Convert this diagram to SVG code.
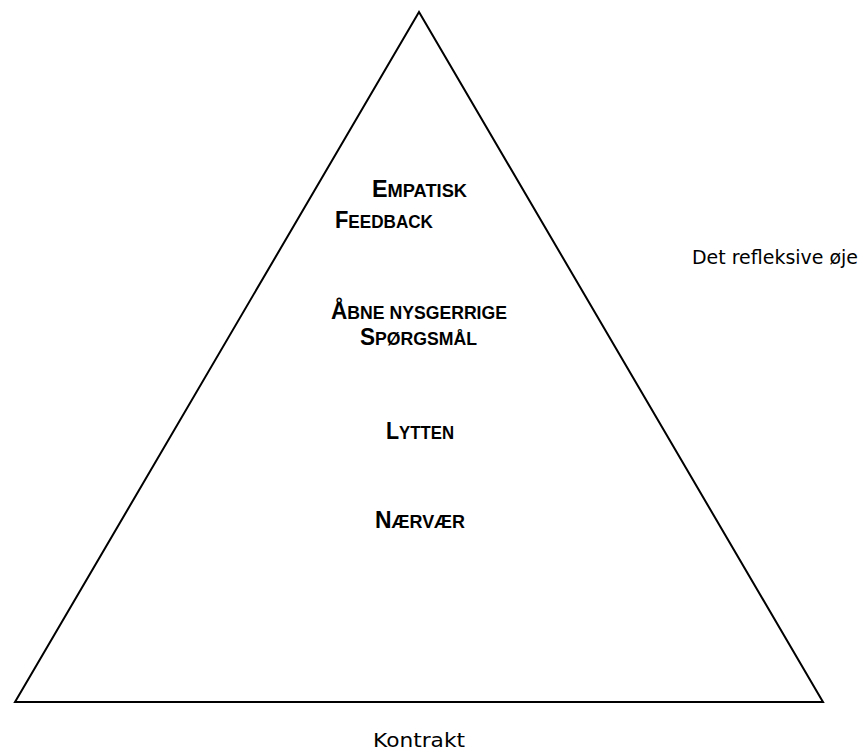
<svg xmlns="http://www.w3.org/2000/svg" width="859" height="753" viewBox="0 0 859 753">
<style>
.lvl{font-family:"Liberation Sans",Arial,sans-serif;font-weight:bold;fill:#000}
.big{font-size:23px}
.sm{font-size:18px}
.plain{font-family:"DejaVu Sans","Liberation Sans",sans-serif;font-size:19px;fill:#000}
</style>
<rect width="859" height="753" fill="#fff"/>
<g id="pyramid">
<polygon points="419,12 15,702 823,702" fill="none" stroke="#000" stroke-width="2"/>
</g>
<g id="empatisk">
<text class="lvl" x="372" y="197" textLength="95" lengthAdjust="spacingAndGlyphs"><tspan class="big">E</tspan><tspan class="sm">MPATISK</tspan></text>
<text class="lvl" x="335" y="228" textLength="98" lengthAdjust="spacingAndGlyphs"><tspan class="big">F</tspan><tspan class="sm">EEDBACK</tspan></text>
</g>
<g id="aabne">
<text class="lvl" x="331" y="319" textLength="176" lengthAdjust="spacingAndGlyphs"><tspan class="big">Å</tspan><tspan class="sm">BNE NYSGERRIGE</tspan></text>
<text class="lvl" x="360" y="345" textLength="117" lengthAdjust="spacingAndGlyphs"><tspan class="big">S</tspan><tspan class="sm">PØRGSMÅL</tspan></text>
</g>
<g id="lytten">
<text class="lvl" x="386" y="439" textLength="68" lengthAdjust="spacingAndGlyphs"><tspan class="big">L</tspan><tspan class="sm">YTTEN</tspan></text>
</g>
<g id="naervaer">
<text class="lvl" x="375" y="528" textLength="90" lengthAdjust="spacingAndGlyphs"><tspan class="big">N</tspan><tspan class="sm">ÆRVÆR</tspan></text>
</g>
<g id="reflexive">
<text class="plain" x="692" y="264" textLength="166" lengthAdjust="spacingAndGlyphs">Det refleksive øje</text>
</g>
<g id="kontrakt">
<text class="plain" x="373" y="747" textLength="92" lengthAdjust="spacingAndGlyphs">Kontrakt</text>
</g>
</svg>
